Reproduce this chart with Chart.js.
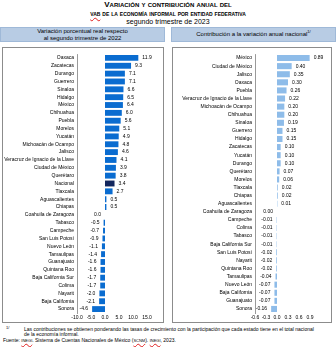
<!DOCTYPE html>
<html lang="es">
<head>
<meta charset="utf-8">
<script src="https://cdn.jsdelivr.net/npm/chart.js@4"></script>
<style>
  body { margin: 0; background: #fff; font-family: "Liberation Sans", Arial, sans-serif; color: #000; }
  #page { position: relative; width: 336px; height: 347px; overflow: hidden; }
  .t { position: absolute; left: 0; width: 336px; text-align: center; white-space: nowrap; }
  .sc { font-variant: small-caps; font-weight: bold; }
  .box { position: absolute; top: 27px; height: 15px; background: #b8cce4; border: 1px solid #9fb9d8; box-sizing: border-box;
         font-size: 6px; line-height: 6.5px; text-align: center; display: flex; flex-direction: column; justify-content: center; }
  .panel { position: absolute; top: 47px; height: 276px; border: 1px solid #8c8c8c; box-sizing: border-box; }
  .panel canvas { position: absolute; left: 0; top: 0; }
  .note { position: absolute; font-size: 5px; line-height: 5px; white-space: nowrap; }
  .sq { text-decoration: underline wavy #e02020; text-decoration-thickness: 0.5px; }
</style>
</head>
<body>
<div id="page">
  <div class="t sc" style="top:1px;font-size:8px;line-height:8px;">Variación y contribución anual del</div>
  <div class="t sc" style="top:10px;font-size:7px;line-height:7px;"><span class="sq">vab</span> de la economía informal por entidad federativa</div>
  <div class="t" style="top:18px;font-size:7px;line-height:7px;">segundo trimestre de 2023</div>

  <div class="box" style="left:0;width:165px;"><div>Variación porcentual real respecto</div><div>al segundo trimestre de 2022</div></div>
  <div class="box" style="left:171px;width:165px;"><div>Contribución a la variación anual nacional<sup style="font-size:4px;line-height:0">1/</sup></div></div>

  <div class="panel" style="left:2px;width:162px;"><canvas id="chartVar" width="160" height="274"></canvas></div>
  <div class="panel" style="left:172px;width:160px;"><canvas id="chartContrib" width="158" height="274"></canvas></div>

  <div class="note" style="left:6px;top:325px;font-size:4px;">1/</div>
  <div class="note" style="left:24px;top:327px;">Las contribuciones se obtienen ponderando las tasas de crecimiento con la participación que cada estado tiene en el total nacional</div>
  <div class="note" style="left:24px;top:332px;">de la economía informal.</div>
  <div class="note" style="left:3px;top:338px;">Fuente: <span class="sq" style="font-variant:small-caps">inegi</span>. Sistema de Cuentas Nacionales de México (<span class="sq" style="font-variant:small-caps">scnm</span>). <span class="sq" style="font-variant:small-caps">inegi</span>, 2023.</div>
</div>

<script>
// Variación porcentual real anual por entidad
var varStates = ['Oaxaca', 'Zacatecas', 'Durango', 'Guerrero', 'Sinaloa', 'Hidalgo', 'México', 'Chihuahua',
  'Puebla', 'Morelos', 'Yucatán', 'Michoacán de Ocampo', 'Jalisco', 'Veracruz de Ignacio de la Llave',
  'Ciudad de México', 'Querétaro', 'Nacional', 'Tlaxcala', 'Aguascalientes', 'Chiapas', 'Coahuila de Zaragoza',
  'Tabasco', 'Campeche', 'San Luis Potosí', 'Nuevo León', 'Tamaulipas', 'Guanajuato', 'Quintana Roo',
  'Baja California Sur', 'Colima', 'Nayarit', 'Baja California', 'Sonora'];
var varValues = [11.9, 9.3, 7.1, 7.1, 6.6, 6.5, 6.4, 6.0, 5.6, 5.1, 4.9, 4.8, 4.6, 4.1, 3.9, 3.8, 3.4, 2.7,
  0.5, 0.5, 0.0, -0.5, -0.7, -0.9, -1.1, -1.4, -1.6, -1.6, -1.7, -1.7, -2.0, -2.1, -4.6];
var varTicks = { min: -10, max: 15, step: 5 };

// Contribución a la variación anual nacional
var contribStates = ['México', 'Ciudad de México', 'Jalisco', 'Oaxaca', 'Puebla', 'Veracruz de Ignacio de la Llave',
  'Michoacán de Ocampo', 'Chihuahua', 'Sinaloa', 'Guerrero', 'Hidalgo', 'Zacatecas', 'Yucatán', 'Durango',
  'Querétaro', 'Morelos', 'Tlaxcala', 'Chiapas', 'Aguascalientes', 'Coahuila de Zaragoza', 'Campeche', 'Colima',
  'Tabasco', 'Baja California Sur', 'San Luis Potosí', 'Nayarit', 'Quintana Roo', 'Tamaulipas', 'Nuevo León',
  'Baja California', 'Guanajuato', 'Sonora'];
var contribValues = [0.89, 0.40, 0.35, 0.30, 0.26, 0.22, 0.20, 0.20, 0.19, 0.15, 0.15, 0.10, 0.10, 0.10, 0.07,
  0.06, 0.02, 0.02, 0.01, 0.00, -0.01, -0.01, -0.01, -0.01, -0.02, -0.02, -0.02, -0.04, -0.07, -0.07, -0.07, -0.16];
var contribTicks = { min: -0.6, max: 0.9, step: 0.3 };

var FONT = '"Liberation Sans", Arial, sans-serif';

// writes the value next to each bar: right of positive bars, left of the rest
var valueLabels = {
  id: 'valueLabels',
  afterDatasetsDraw: function(chart, args, opts) {
    var ctx = chart.ctx;
    var values = chart.data.datasets[0].data;
    ctx.save();
    ctx.font = '5px ' + FONT;
    ctx.fillStyle = '#000';
    ctx.textBaseline = 'middle';
    chart.getDatasetMeta(0).data.forEach(function(bar, i) {
      var v = values[i];
      var txt = v.toFixed(opts.digits);
      if (v > 0) {
        ctx.textAlign = 'left';
        ctx.fillText(txt, bar.x + 4, bar.y);
      } else {
        ctx.textAlign = 'right';
        ctx.fillText(txt, Math.min(bar.x, bar.base) - 4, bar.y);
      }
    });
    ctx.restore();
  }
};

function makeChart(id, labels, values, colors, ticks, digits, yWidth, pad) {
  return new Chart(document.getElementById(id), {
    type: 'bar',
    data: {
      labels: labels,
      datasets: [{
        data: values,
        backgroundColor: colors,
        borderWidth: 0,
        categoryPercentage: 0.75,
        barPercentage: 1
      }]
    },
    options: {
      indexAxis: 'y',
      responsive: false,
      animation: false,
      devicePixelRatio: 1,
      layout: { padding: pad },
      plugins: {
        legend: { display: false },
        tooltip: { enabled: false },
        valueLabels: { digits: digits }
      },
      scales: {
        x: {
          min: ticks.min,
          max: ticks.max,
          grid: { display: false, drawTicks: false },
          border: { display: false },
          afterFit: function(s) { s.height = 9; },
          ticks: {
            stepSize: ticks.step,
            autoSkip: false,
            maxRotation: 0,
            padding: 2,
            color: '#000',
            font: { size: 5, family: FONT },
            callback: function(v) { return Number(v).toFixed(1); }
          }
        },
        y: {
          grid: { display: false, drawTicks: false },
          border: { display: true, color: '#808080', width: 0.8 },
          afterFit: function(s) { s.width = yWidth; },
          ticks: {
            autoSkip: false,
            padding: 3,
            color: '#000',
            font: { size: 5, family: FONT }
          }
        }
      }
    },
    plugins: [valueLabels]
  });
}

var varColors = varStates.map(function(s) { return s === 'Nacional' ? '#13275e' : '#0a6cd0'; });
var contribColors = contribStates.map(function() { return '#8ebce9'; });

makeChart('chartVar', varStates, varValues, varColors, varTicks, 1, 74, { top: 2, right: 16, left: 0, bottom: 0 });
makeChart('chartContrib', contribStates, contribValues, contribColors, contribTicks, 2, 82, { top: 5, right: 21, left: 0, bottom: 0 });
</script>
</body>
</html>
